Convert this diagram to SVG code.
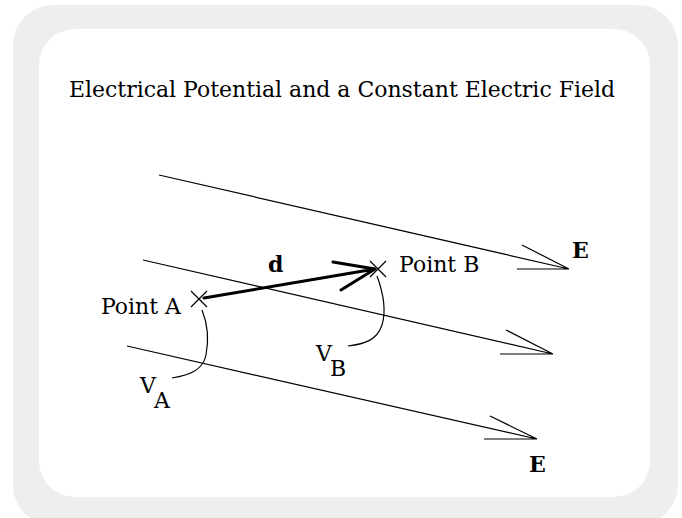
<svg xmlns="http://www.w3.org/2000/svg" width="682" height="518" viewBox="0 0 682 518">
<style>
.lbl{font-family:"DejaVu Serif","Liberation Serif",serif;font-size:22px;fill:#000}
.bold{font-weight:bold}
.field{stroke:#000;stroke-width:1.2;fill:none}
.thick{stroke:#000;stroke-width:3;fill:none;stroke-linecap:round}
.thin{stroke:#000;stroke-width:1.2;fill:none}
</style>
<rect id="frame-outer" x="13" y="5" width="665" height="520" rx="40" fill="#eeeeee"/>
<rect id="frame-inner" x="39" y="29" width="611" height="468" rx="36" fill="#ffffff"/>
<text id="title" class="lbl" x="69" y="97" font-size="25.5" textLength="546" lengthAdjust="spacingAndGlyphs">Electrical Potential and a Constant Electric Field</text>
<g id="connectors">
  <g id="field-top"><path class="field" d="M159,175 L569,269 M569,269 L517,269 M569,269 L522,245"/></g>
  <g id="field-mid"><path class="field" d="M143,260 L553,354 M553,354 L500,354 M553,354 L506,330"/></g>
  <g id="field-bot"><path class="field" d="M127,346 L537,439 M537,439 L484,439 M537,439 L490,416"/></g>
  <g id="vector-d"><path class="thick" d="M204,298 L375,269 M333,262 L375,269 M341,290 L375,269"/></g>
  <path id="lead-A" class="thin" d="M202,310 C210,330 208,345 206,355 C203,370 190,375 172,378"/>
  <path id="lead-B" class="thin" d="M377,276 C384,295 386,312 382,325 C377,340 365,344 348,346"/>
</g>
<g id="pointA">
  <path class="thin" d="M191,291 L207,307 M191,307 L207,291"/>
  <text class="lbl" x="181" y="314" text-anchor="end">Point A</text>
</g>
<g id="pointB">
  <path class="thin" d="M370,261 L386,277 M370,277 L386,261"/>
  <text class="lbl" x="399" y="272">Point B</text>
</g>
<g id="label-d"><text class="lbl bold" x="268" y="272" font-size="21">d</text></g>
<g id="label-VA"><text class="lbl" x="140" y="393">V</text><text class="lbl" x="154" y="408" font-size="20">A</text></g>
<g id="label-VB"><text class="lbl" x="316" y="361">V</text><text class="lbl" x="330" y="376" font-size="20">B</text></g>
<g id="label-E1"><text class="lbl bold" x="572" y="258">E</text></g>
<g id="label-E2"><text class="lbl bold" x="529" y="472">E</text></g>
</svg>
